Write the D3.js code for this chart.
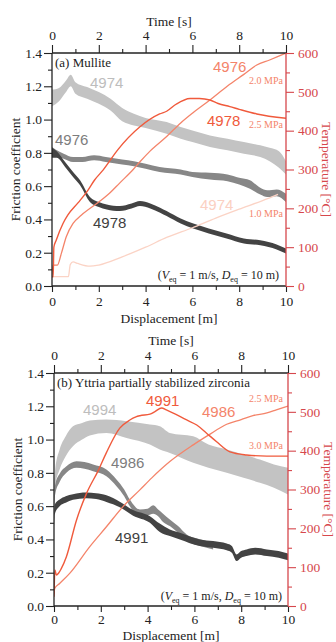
<!DOCTYPE html>
<html>
<head>
<meta charset="utf-8">
<script src="https://cdn.jsdelivr.net/npm/d3@7"></script>
<style>
  body { margin: 0; background: #fff; }
  svg text { font-family: 'Liberation Serif', 'Times New Roman', serif; }
  .num { font-family: 'Liberation Sans', Arial, sans-serif; }
</style>
</head>
<body>
<svg id="chart" width="336" height="642"></svg>
<script>
// ---- data ----
// friction traces: [displacement m, mean friction, half width of the noisy band]
const fricA4974 = [[0,1.13,0.05],[0.3,1.15,0.04],[0.6,1.2,0.035],[0.8,1.235,0.035],[1.0,1.19,0.035],[1.5,1.16,0.035],[2,1.13,0.035],[2.5,1.09,0.035],[3,1.03,0.04],[3.5,1.0,0.035],[4,0.98,0.03],[4.9,0.95,0.035],[5.5,0.92,0.035],[6,0.9,0.035],[6.75,0.87,0.035],[7.5,0.85,0.035],[8.2,0.83,0.035],[8.9,0.81,0.035],[9.3,0.79,0.04],[9.7,0.76,0.05],[10,0.71,0.04]];
const fricA4976 = [[0,0.81,0.025],[0.15,0.8,0.02],[0.5,0.78,0.015],[0.9,0.76,0.015],[1.3,0.76,0.015],[1.8,0.77,0.015],[2.3,0.76,0.015],[3,0.745,0.015],[3.5,0.735,0.015],[4,0.72,0.015],[4.6,0.7,0.015],[5.5,0.685,0.015],[6,0.67,0.015],[6.75,0.66,0.02],[7.5,0.65,0.02],[8,0.63,0.02],[8.46,0.61,0.025],[8.9,0.57,0.02],[9.2,0.555,0.02],[9.6,0.56,0.02],[10,0.53,0.025]];
const fricA4978 = [[0,0.8,0.03],[0.2,0.79,0.02],[0.56,0.73,0.015],[0.9,0.67,0.015],[1.2,0.62,0.015],[1.62,0.52,0.015],[2,0.49,0.015],[2.34,0.475,0.015],[2.9,0.465,0.015],[3.4,0.48,0.015],[3.76,0.495,0.015],[4.2,0.48,0.015],[4.62,0.455,0.015],[4.9,0.435,0.015],[5.5,0.39,0.015],[6.04,0.36,0.015],[6.7,0.33,0.015],[7.46,0.3,0.015],[8.2,0.27,0.015],[8.9,0.26,0.015],[9.6,0.235,0.015],[10,0.21,0.015]];

// temperature traces: [displacement m, temperature degC]
const tempA4974 = [[0,24],[0.7,24],[0.78,55],[0.9,62],[1.1,58],[1.62,51],[2,54],[3,75],[4,100],[4.9,125],[6,150],[7,175],[8,198],[9,220],[9.66,236]];
const tempA4976 = [[0,24],[0.04,54],[0.23,54],[0.4,84],[0.61,127],[0.9,161],[1.25,182],[1.97,215],[2.48,240],[2.89,265],[3.47,300],[3.76,320],[4.2,348],[4.9,385],[5.5,420],[6,445],[6.75,479],[7.5,515],[8.2,545],[8.75,569],[9.3,582],[10,600]];
const tempA4978 = [[0,24],[0.05,24],[0.08,100],[0.18,118],[0.47,161],[0.68,183],[1.11,214],[1.54,247],[1.82,273],[2.19,299],[2.8,350],[3.76,410],[4.6,443],[4.9,450],[5.3,468],[5.9,483],[6.3,483],[6.75,479],[7.1,470],[7.6,462],[8,455],[8.75,443],[10,432]];

const fricB4994 = [[0,0.68,0.04],[0.05,0.77,0.05],[0.24,0.88,0.06],[0.5,0.96,0.06],[0.81,1.02,0.06],[1.2,1.05,0.05],[1.53,1.07,0.045],[2.24,1.08,0.04],[3.1,1.06,0.05],[4.1,1.03,0.06],[4.52,1.01,0.07],[4.95,0.98,0.06],[5.95,0.94,0.08],[6.6,0.9,0.07],[7.38,0.87,0.07],[8.1,0.84,0.07],[8.8,0.81,0.07],[9.4,0.78,0.07],[10,0.75,0.08]];
const fricB4986 = [[0,0.6,0.02],[0.05,0.7,0.03],[0.24,0.77,0.025],[0.53,0.82,0.02],[0.96,0.85,0.02],[1.3,0.845,0.02],[1.67,0.83,0.02],[2.24,0.8,0.02],[2.67,0.74,0.02],[3,0.68,0.02],[3.24,0.62,0.02],[3.67,0.56,0.02],[4,0.565,0.02],[4.24,0.58,0.025],[4.45,0.56,0.02],[4.66,0.53,0.025],[4.95,0.5,0.02],[5.3,0.46,0.02],[5.67,0.41,0.02],[6,0.39,0.02],[6.4,0.375,0.02],[6.8,0.36,0.02]];
const fricB4991 = [[0,0.5,0.03],[0.03,0.58,0.03],[0.24,0.62,0.02],[0.5,0.64,0.02],[0.81,0.655,0.017],[1.38,0.665,0.017],[1.8,0.66,0.017],[2.24,0.645,0.02],[2.81,0.61,0.017],[3.38,0.56,0.017],[4.1,0.52,0.02],[4.52,0.47,0.025],[4.95,0.44,0.02],[5.38,0.42,0.02],[6.23,0.38,0.02],[6.8,0.37,0.02],[7.38,0.355,0.02],[7.6,0.34,0.02],[7.8,0.29,0.02],[8,0.31,0.02],[8.23,0.32,0.02],[8.6,0.33,0.02],[9.1,0.32,0.02],[9.6,0.31,0.02],[10,0.295,0.02]];

const tempB4991 = [[0,24],[0.04,93],[0.1,80],[0.2,85],[0.3,95],[0.53,127],[0.96,221],[1.39,290],[1.9,350],[2.24,395],[2.81,458],[3.24,479],[3.5,487],[3.67,490],[4.1,494],[4.3,500],[4.6,510],[4.8,505],[5.67,479],[6.1,466],[6.52,445],[6.95,423],[7.52,397],[8.23,389],[9.09,386],[10,386]];
const tempB4986 = [[0,30],[0.03,45],[0.24,58],[0.67,84],[1.53,153],[2.24,204],[2.95,256],[3.67,299],[4.18,330],[4.95,372],[5.95,415],[6.6,440],[7.38,468],[8,480],[8.5,490],[9.1,497],[9.5,505],[10,515]];

// axis ticks
const dispTicks = d3.range(0, 11, 1);
const fricTicks = d3.range(0, 1.41, 0.2);
const fricMinor = d3.range(0.1, 1.4, 0.2);
const tempTicks = d3.range(0, 601, 100);
const tempMinor = d3.range(50, 600, 100);

// ---- layout / style ----
const PW = 234, PH = 233;
const RED = '#d6474c';
const C_LIGHT = '#c3c3c3', C_MID = '#878787', C_DARK = '#434343';
const T_STRONG = '#f05a3c', T_MED = '#f4846a', T_PALE = '#fbd3c5';

const svg = d3.select('#chart');

const panels = [
  {
    left: 52, top: 53, id: 'a',
    friction: [
      { data: fricA4974, color: C_LIGHT },
      { data: fricA4976, color: C_MID },
      { data: fricA4978, color: C_DARK }
    ],
    temps: [
      { data: tempA4974, color: T_PALE, w: 1.3 },
      { data: tempA4976, color: T_MED, w: 1.3 },
      { data: tempA4978, color: T_STRONG, w: 1.4 }
    ],
    title: '(a) Mullite',
    labels: [
      { t: '4974', dx: 38, dy: 35, c: '#bdbdbd', num: true },
      { t: '4976', dx: 3, dy: 92, c: '#7d7d7d', num: true },
      { t: '4978', dx: 41, dy: 175, c: '#404040', num: true },
      { t: '4976', dx: 161, dy: 19, c: T_MED, num: true },
      { t: '4978', dx: 155, dy: 73, c: T_STRONG, num: true },
      { t: '4974', dx: 148, dy: 157, c: '#fbd0c2', num: true },
      { t: '2.0 MPa', dx: 231, dy: 31, c: T_MED, end: true },
      { t: '2.5 MPa', dx: 231, dy: 75, c: T_MED, end: true },
      { t: '1.0 MPa', dx: 231, dy: 164, c: T_MED, end: true }
    ],
    cond: { dx: 227, dy: 226 },
    timeY: -27, dispY: 37, botPad: 4
  },
  {
    left: 54, top: 373, id: 'b',
    friction: [
      { data: fricB4994, color: C_LIGHT },
      { data: fricB4986, color: C_MID },
      { data: fricB4991, color: C_DARK }
    ],
    temps: [
      { data: tempB4986, color: T_MED, w: 1.3 },
      { data: tempB4991, color: T_STRONG, w: 1.4 }
    ],
    title: '(b) Yttria partially stabilized zirconia',
    labels: [
      { t: '4994', dx: 29, dy: 42, c: '#bdbdbd', num: true },
      { t: '4991', dx: 92, dy: 33, c: T_STRONG, num: true },
      { t: '4986', dx: 148, dy: 44, c: T_MED, num: true },
      { t: '4986', dx: 57, dy: 95, c: '#7d7d7d', num: true },
      { t: '4991', dx: 61, dy: 170, c: '#404040', num: true },
      { t: '2.5 MPa', dx: 229, dy: 29, c: T_MED, end: true },
      { t: '3.0 MPa', dx: 229, dy: 76, c: T_MED, end: true }
    ],
    cond: { dx: 228, dy: 227 },
    timeY: -28, dispY: 33.5, botPad: 2
  }
];

panels.forEach(drawPanel);

function styleAxis(sel, color, size) {
  sel.select('.domain').remove();
  sel.selectAll('line').attr('stroke', color).attr('stroke-width', 1.1);
  sel.selectAll('text').attr('fill', color).style('font-size', size + 'px')
    .style('font-family', "'Liberation Serif','Times New Roman',serif");
}

function drawPanel(p) {
  const g = svg.append('g');
  const x = d3.scaleLinear().domain([0, 10]).range([p.left, p.left + PW]);
  const y = d3.scaleLinear().domain([0, 1.4]).range([p.top + PH, p.top]);
  const yT = d3.scaleLinear().domain([0, 600]).range([p.top + PH, p.top]);

  g.append('clipPath').attr('id', 'clip-' + p.id)
    .append('rect').attr('x', p.left).attr('y', p.top).attr('width', PW).attr('height', PH);
  const plot = g.append('g').attr('clip-path', `url(#clip-${p.id})`);

  // noisy friction bands
  const band = d3.area()
    .x(d => x(d[0]))
    .y0(d => y(d[1] - d[2]))
    .y1(d => y(d[1] + d[2]))
    .curve(d3.curveMonotoneX);
  p.friction.forEach(s => {
    plot.append('path').datum(s.data)
      .attr('d', band)
      .attr('fill', s.color);
  });

  // temperature lines
  const line = d3.line().x(d => x(d[0])).y(d => yT(d[1])).curve(d3.curveMonotoneX);
  p.temps.forEach(s => {
    plot.append('path').datum(s.data)
      .attr('d', line)
      .attr('fill', 'none')
      .attr('stroke', s.color)
      .attr('stroke-width', s.w);
  });

  // axes
  const fmt1 = d3.format('.1f');
  const bottomMaj = g.append('g').attr('transform', `translate(0,${p.top + PH})`)
    .call(d3.axisBottom(x).tickValues(dispTicks.filter(d => d % 2 === 0)).tickSize(6).tickPadding(p.botPad).tickFormat(d3.format('d')));
  styleAxis(bottomMaj, '#222', 13.5);
  const bottomMin = g.append('g').attr('transform', `translate(0,${p.top + PH})`)
    .call(d3.axisBottom(x).tickValues(dispTicks.filter(d => d % 2 === 1)).tickSize(4).tickFormat(''));
  styleAxis(bottomMin, '#222', 13.5);

  const topMaj = g.append('g').attr('transform', `translate(0,${p.top})`)
    .call(d3.axisTop(x).tickValues(dispTicks.filter(d => d % 2 === 0)).tickSize(8).tickPadding(5).tickFormat(d3.format('d')));
  styleAxis(topMaj, '#222', 13.5);
  const topMin = g.append('g').attr('transform', `translate(0,${p.top})`)
    .call(d3.axisTop(x).tickValues(dispTicks.filter(d => d % 2 === 1)).tickSize(4).tickFormat(''));
  styleAxis(topMin, '#222', 13.5);

  const leftMaj = g.append('g').attr('transform', `translate(${p.left},0)`)
    .call(d3.axisLeft(y).tickValues(fricTicks).tickSize(8).tickPadding(2).tickFormat(fmt1));
  styleAxis(leftMaj, '#222', 13.5);
  const leftMin = g.append('g').attr('transform', `translate(${p.left},0)`)
    .call(d3.axisLeft(y).tickValues(fricMinor).tickSize(4).tickFormat(''));
  styleAxis(leftMin, '#222', 13.5);

  const rightMaj = g.append('g').attr('transform', `translate(${p.left + PW},0)`)
    .call(d3.axisRight(yT).tickValues(tempTicks).tickSize(8).tickPadding(4).tickFormat(d3.format('d')));
  styleAxis(rightMaj, RED, 13.5);
  const rightMin = g.append('g').attr('transform', `translate(${p.left + PW},0)`)
    .call(d3.axisRight(yT).tickValues(tempMinor).tickSize(4).tickFormat(''));
  styleAxis(rightMin, RED, 13.5);

  // frame
  g.append('line').attr('x1', p.left).attr('x2', p.left + PW).attr('y1', p.top).attr('y2', p.top)
    .attr('stroke', '#222').attr('stroke-width', 1.3);
  g.append('line').attr('x1', p.left).attr('x2', p.left + PW).attr('y1', p.top + PH).attr('y2', p.top + PH)
    .attr('stroke', '#222').attr('stroke-width', 1.3);
  g.append('line').attr('x1', p.left).attr('x2', p.left).attr('y1', p.top).attr('y2', p.top + PH)
    .attr('stroke', '#222').attr('stroke-width', 1.3);
  g.append('line').attr('x1', p.left + PW).attr('x2', p.left + PW).attr('y1', p.top).attr('y2', p.top + PH)
    .attr('stroke', RED).attr('stroke-width', 1.3);

  // axis titles
  const cx = p.left + PW / 2, cy = p.top + PH / 2;
  g.append('text').attr('x', cx).attr('y', p.top + p.timeY).attr('text-anchor', 'middle')
    .attr('fill', '#222').style('font-size', '13.5px').text('Time [s]');
  g.append('text').attr('x', cx).attr('y', p.top + PH + p.dispY).attr('text-anchor', 'middle')
    .attr('fill', '#222').style('font-size', '13.5px').text('Displacement [m]');
  g.append('text').attr('transform', `translate(${p.left - 32},${cy}) rotate(-90)`)
    .attr('text-anchor', 'middle').attr('fill', '#222').style('font-size', '13.5px')
    .text('Friction coefficient');
  g.append('text').attr('transform', `translate(${p.left + PW + 36},${cy}) rotate(90)`)
    .attr('text-anchor', 'middle').attr('fill', RED).style('font-size', '13.5px')
    .text('Temperature [°C]');

  // panel title
  g.append('text').attr('x', p.left + 3).attr('y', p.top + 14)
    .attr('fill', '#222').style('font-size', '13px').text(p.title);

  // curve labels
  p.labels.forEach(l => {
    const t = g.append('text')
      .attr('x', p.left + l.dx).attr('y', p.top + l.dy)
      .attr('fill', l.c)
      .text(l.t);
    if (l.num) t.attr('class', 'num').style('font-size', '15px');
    else t.style('font-size', '10px');
    if (l.end) t.attr('text-anchor', 'end');
  });

  // test conditions
  const ct = g.append('text').attr('x', p.left + p.cond.dx).attr('y', p.top + p.cond.dy)
    .attr('text-anchor', 'end').attr('fill', '#222').style('font-size', '12px');
  ct.append('tspan').text('(');
  ct.append('tspan').style('font-style', 'italic').text('V');
  ct.append('tspan').attr('dy', 2.5).style('font-size', '8px').text('eq');
  ct.append('tspan').attr('dy', -2.5).text(' = 1 m/s, ');
  ct.append('tspan').style('font-style', 'italic').text('D');
  ct.append('tspan').attr('dy', 2.5).style('font-size', '8px').text('eq');
  ct.append('tspan').attr('dy', -2.5).text(' = 10 m)');
}
</script>
</body>
</html>
